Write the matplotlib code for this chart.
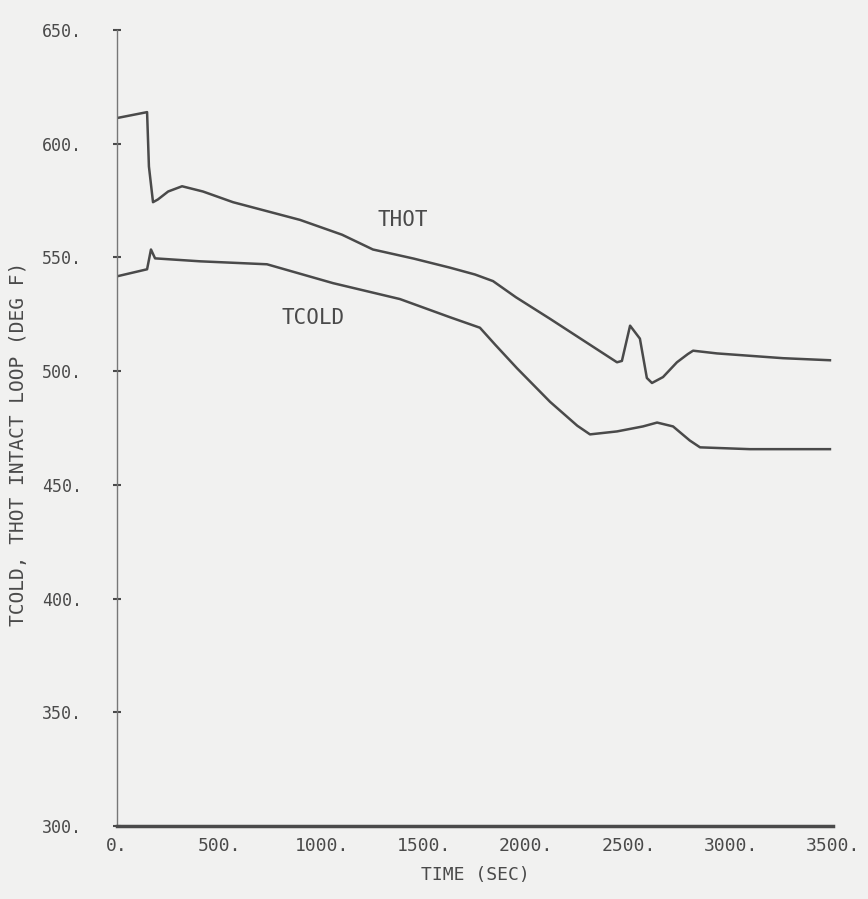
import numpy as np
import matplotlib
matplotlib.use("Agg")
import matplotlib.pyplot as plt
from matplotlib.ticker import FuncFormatter

# THOT / TCOLD intact loop temperatures
thot_t = [0, 147, 156, 176, 200, 250, 318, 420, 567, 895, 1100, 1251, 1450, 1628,
          1750, 1838, 1950, 2117, 2444, 2468, 2508, 2556, 2590, 2615, 2669, 2737,
          2790, 2816, 2933, 3256, 3485]
thot_v = [611.3, 613.9, 590.0, 574.3, 575.5, 579.0, 581.3, 579.0, 574.3, 566.5, 560.0,
          553.5, 549.5, 545.5, 542.5, 539.6, 532.5, 523.0, 503.9, 504.5, 520.0, 514.3,
          497.0, 494.8, 497.4, 503.9, 507.5, 509.0, 507.8, 505.7, 504.8]

tcold_t = [0, 147, 166, 186, 406, 733, 1056, 1383, 1628, 1774, 1850, 1955, 2117,
           2250, 2312, 2444, 2571, 2640, 2718, 2800, 2850, 3094, 3485]
tcold_v = [541.7, 544.8, 553.5, 549.6, 548.3, 547.0, 538.7, 531.7, 523.7, 519.1, 511.5,
           501.3, 486.5, 476.0, 472.2, 473.5, 475.7, 477.4, 475.7, 469.5, 466.5, 465.7, 465.7]

x_ticks = [0, 500, 1000, 1500, 2000, 2500, 3000, 3500]
y_ticks = [300, 350, 400, 450, 500, 550, 600, 650]

ink = "#4a4a4a"
paper = "#f1f1f0"
mono = "DejaVu Sans Mono"

fig = plt.figure(figsize=(8.68, 8.99), dpi=100, facecolor=paper)
ax = fig.add_axes([0.1348, 0.0812, 0.8249, 0.8854], facecolor=paper)

ax.plot(thot_t, thot_v, color=ink, lw=1.8)
ax.plot(tcold_t, tcold_v, color=ink, lw=1.8)

ax.text(1398, 566.5, "THOT", family=mono, fontsize=15, color=ink, ha="center", va="center")
ax.text(958, 523.5, "TCOLD", family=mono, fontsize=15, color=ink, ha="center", va="center")

ax.set_xlim(0, 3500)
ax.set_ylim(300, 650)
ax.set_xticks(x_ticks)
ax.set_yticks(y_ticks)
ax.xaxis.set_major_formatter(FuncFormatter(lambda v, p: f"{v:.0f}."))
ax.yaxis.set_major_formatter(FuncFormatter(lambda v, p: f"{v:.0f}."))

for s in ["top", "right"]:
    ax.spines[s].set_visible(False)
ax.spines["left"].set_color("#777777")
ax.spines["left"].set_linewidth(1.0)
ax.spines["bottom"].set_color(ink)
ax.spines["bottom"].set_linewidth(2.5)

ax.tick_params(axis="y", direction="inout", length=6, width=1.5, color=ink, pad=22,
               labelsize=12, labelcolor=ink)
ax.tick_params(axis="x", length=0, pad=8, labelsize=13, labelcolor=ink)
for lab in ax.get_xticklabels() + ax.get_yticklabels():
    lab.set_family(mono)

ax.set_xlabel("TIME (SEC)", family=mono, fontsize=13, color=ink, labelpad=8)
ax.set_ylabel("TCOLD, THOT INTACT LOOP (DEG F)", family=mono, fontsize=14, color=ink,
              labelpad=6)
ax.yaxis.set_label_coords(-0.125, 0.48)

fig.savefig("out.png", dpi=100, facecolor=paper)
